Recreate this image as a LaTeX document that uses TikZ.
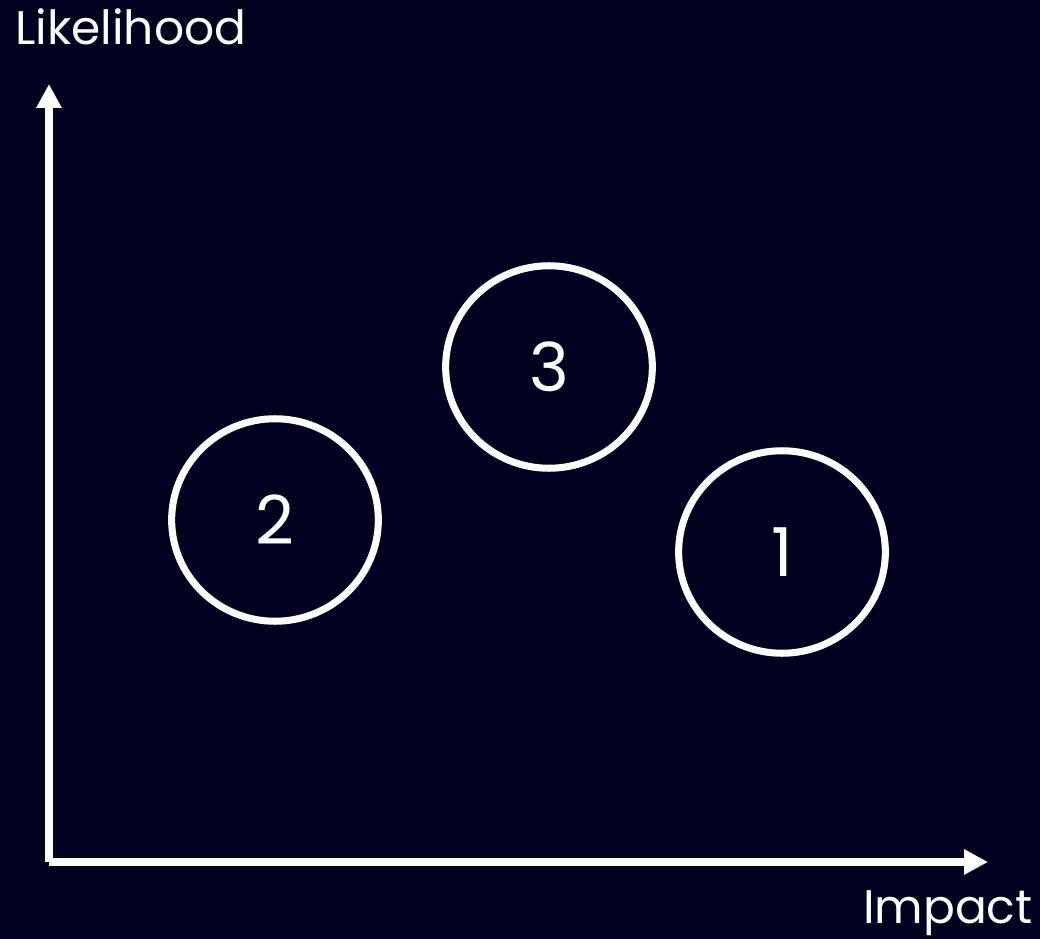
\documentclass[tikz,border=0pt]{standalone}
\usepackage{fontspec}
\setmainfont{Poppins}
\usepackage{tikz}
\usetikzlibrary{positioning, arrows.meta, shapes.geometric}
\usepackage{xcolor}
\definecolor{bgnavy}{HTML}{00001F}

\begin{document}
\begin{tikzpicture}[
  x=0.025cm, y=-0.025cm,
  axis/.style={draw=white, line width=5.3pt, -{Triangle[length=17pt, width=17pt]}},
  risk/.style={draw=white, line width=5pt, ellipse, minimum width=147pt, minimum height=144pt, inner sep=0pt, text=white, font=\fontsize{48}{56}\selectfont},
  lab/.style={text=white, inner sep=0pt, font=\fontsize{33.5}{40}\selectfont}
]

% background and size
\fill[bgnavy] (0,0) rectangle (1040,939);
\useasboundingbox (0,0) rectangle (1040,939);

\coordinate (O) at (49,862);
\coordinate (Ytip) at (49,84);
\coordinate (Xtip) at (988,862);

\draw[axis] (O) -- (Ytip);
\draw[axis] (O) -- (Xtip);

\node[lab, anchor=base west] (ylab) at (15,45) {Likelihood};
\node[lab, anchor=base east] (xlab) at (1033,923) {Impact};

\node[risk] (R1) at (782,552) {1};
\node[risk] (R2) at (275,520) {2};
\node[risk] (R3) at (549,367) {3};

\end{tikzpicture}
\end{document}
